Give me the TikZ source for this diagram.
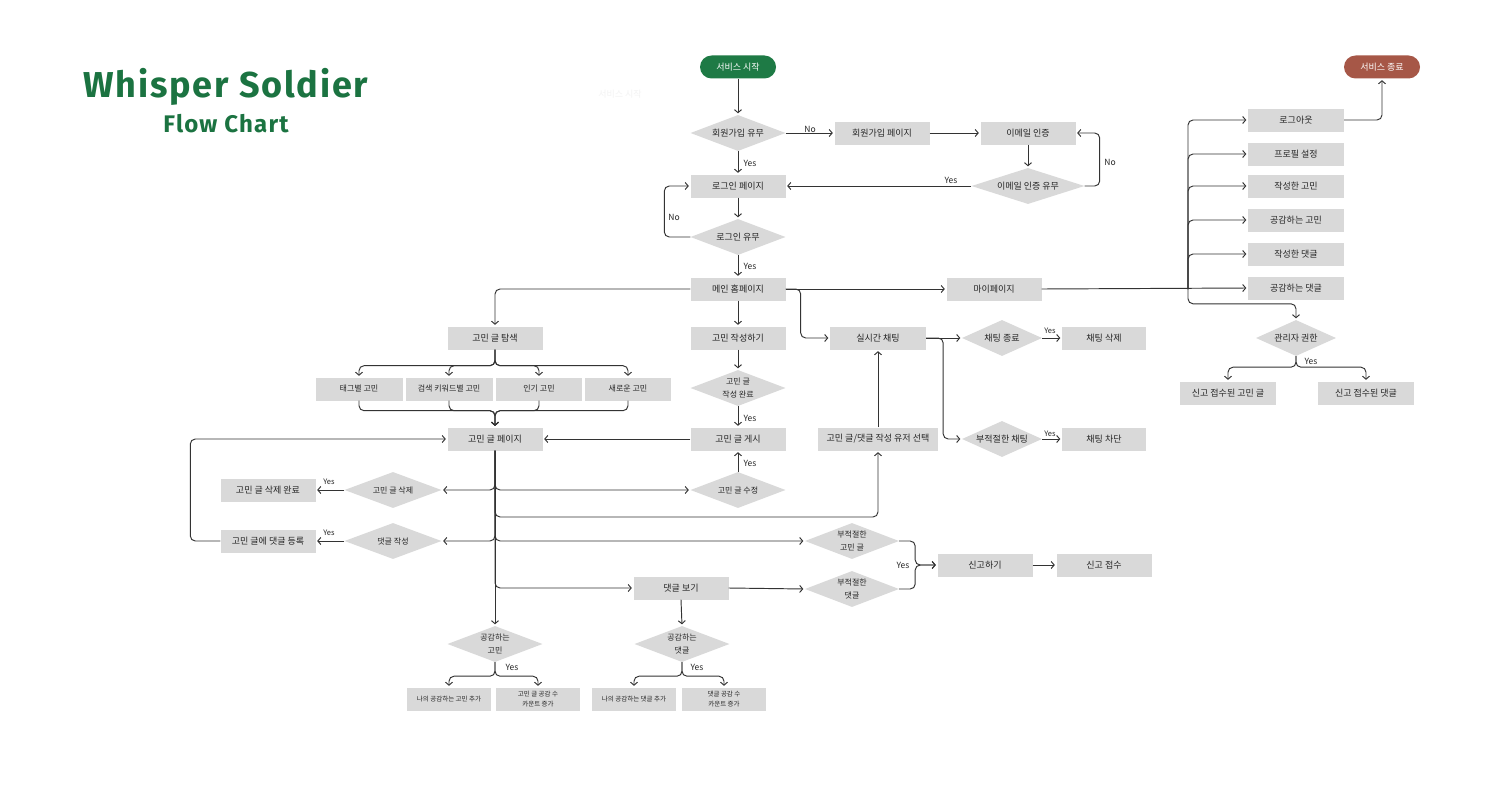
\documentclass[tikz,border=0pt]{standalone}
\usepackage{fontspec}
\setmainfont{Fira Sans}
\newfontfamily\ttlfont[LetterSpace=5]{Fira Sans}
\newfontfamily\kr{Noto Sans CJK KR}
\usetikzlibrary{shapes.geometric,arrows.meta,calc}
\definecolor{boxg}{HTML}{D9D9D9}
\definecolor{txt}{HTML}{262626}
\definecolor{lc}{HTML}{333333}
\definecolor{ttlgreen}{HTML}{1B7341}
\definecolor{startg}{HTML}{1E7A45}
\definecolor{endr}{HTML}{A65747}
\definecolor{ghostc}{HTML}{F3F3F3}
\begin{document}
\begin{tikzpicture}[x=1pt,y=-1pt,
  box/.style={rectangle,fill=boxg,minimum width=95,minimum height=23,inner sep=0pt,text=txt,font=\kr\fontsize{9}{10}\selectfont},
  mbox/.style={box,font=\kr\fontsize{8}{9}\selectfont},
  tbox/.style={box,minimum width=84,font=\kr\fontsize{6.5}{10}\selectfont,align=center},
  dia/.style={diamond,aspect=2.6,fill=boxg,minimum width=95,minimum height=36,inner sep=0pt,text=txt,font=\kr\fontsize{9}{10}\selectfont,align=center},
  sdia/.style={dia,font=\kr\fontsize{8}{13}\selectfont},
  term/.style={rectangle,rounded corners=11.5pt,minimum width=76,minimum height=23,inner sep=0pt,text=white,font=\kr\fontsize{9}{10}\selectfont},
  arr/.style={draw=lc,line width=0.95pt,rounded corners=5pt,shorten >=1.5pt,-{Straight Barb[length=3pt,width=7pt]}},
  lbl/.style={font=\kr\fontsize{8.5}{9}\selectfont,text=txt,inner sep=0pt},
  slbl/.style={lbl,font=\kr\fontsize{7.5}{8}\selectfont},
]
\fill[white] (0,0) rectangle (1500,800);
\path[use as bounding box] (0,0) rectangle (1500,800);

% titles
\node[font=\ttlfont\bfseries\fontsize{36}{40}\selectfont,text=ttlgreen] (title) at (226,87) {Whisper Soldier};
\node[font=\ttlfont\bfseries\fontsize{24}{28}\selectfont,text=ttlgreen] (sub) at (226,124) {Flow Chart};
\node[text=ghostc,font=\kr\fontsize{9}{10}\selectfont] (ghost) at (620,94) {서비스 시작};

% main column
\node[term,fill=startg] (start) at (738,67) {서비스 시작};
\node[dia] (join) at (738,133) {회원가입 유무};
\node[box] (login) at (738,186) {로그인 페이지};
\node[dia] (loginq) at (738,237) {로그인 유무};
\node[box] (home) at (738,289) {메인 홈페이지};
\node[box] (write) at (738,338) {고민 작성하기};
\node[sdia] (writeq) at (738,388) {고민 글\\작성 완료};
\node[box] (post) at (738,439) {고민 글 게시};
\node[sdia] (editq) at (738,490) {고민 글 수정};

% sign-up row
\node[box] (signup) at (882,133) {회원가입 페이지};
\node[box] (email) at (1028,133) {이메일 인증};
\node[dia,minimum width=113] (emailq) at (1028,186) {이메일 인증 유무};
\node[box] (mypage) at (994,289) {마이페이지};

% right column
\node[term,fill=endr] (end) at (1382,67) {서비스 종료};
\node[box,minimum width=96] (logout) at (1296,120) {로그아웃};
\node[box,minimum width=96] (profile) at (1296,154) {프로필 설정};
\node[box,minimum width=96] (mywrote) at (1296,186) {작성한 고민};
\node[box,minimum width=96] (myliked) at (1296,220) {공감하는 고민};
\node[box,minimum width=96] (mycmt) at (1296,254) {작성한 댓글};
\node[box,minimum width=96] (mylikedcmt) at (1296,288) {공감하는 댓글};
\node[dia,minimum width=80] (admin) at (1296,338) {관리자 권한};
\node[box,minimum width=96] (rpost) at (1228,393) {신고 접수된 고민 글};
\node[box,minimum width=96] (rcmt) at (1366,393) {신고 접수된 댓글};

% search
\node[box] (search) at (495,338) {고민 글 탐색};
\node[mbox,minimum width=87] (tag) at (359,389) {태그별 고민};
\node[mbox,minimum width=87] (kw) at (449,389) {검색 키워드별 고민};
\node[mbox,minimum width=86] (pop) at (539,389) {인기 고민};
\node[mbox,minimum width=86] (new) at (628,389) {새로운 고민};
\node[box] (page) at (495,439) {고민 글 페이지};

% left
\node[sdia,minimum width=97] (delq) at (393,490) {고민 글 삭제};
\node[box] (deldone) at (268,490) {고민 글 삭제 완료};
\node[sdia,minimum width=97] (cmtq) at (393,541) {댓글 작성};
\node[box] (cmtdone) at (268,541) {고민 글에 댓글 등록};

% chat
\node[box,minimum width=96] (chat) at (878,338) {실시간 채팅};
\node[box,minimum width=120] (pick) at (878,439) {고민 글/댓글 작성 유저 선택};
\node[dia,minimum width=80] (chatend) at (1002,338) {채팅 종료};
\node[box,minimum width=84] (chatdel) at (1104,338) {채팅 삭제};
\node[dia,minimum width=80] (badchat) at (1002,439) {부적절한 채팅};
\node[box,minimum width=84] (block) at (1104,439) {채팅 차단};

% report
\node[sdia,minimum width=94] (badpost) at (852,541) {부적절한\\고민 글};
\node[sdia,minimum width=94] (badcmt) at (852,589) {부적절한\\댓글};
\node[box] (report) at (985,565) {신고하기};
\node[box] (rcv) at (1104,565) {신고 접수};
\node[box] (viewcmt) at (681,588) {댓글 보기};

% likes
\node[sdia] (likeq) at (495,644) {공감하는\\고민};
\node[sdia] (likecq) at (682,644) {공감하는\\댓글};
\node[tbox] (l1) at (449,699) {나의 공감하는 고민 추가};
\node[tbox] (l2) at (538,699) {고민 글 공감 수\\카운트 증가};
\node[tbox] (l3) at (634,699) {나의 공감하는 댓글 추가};
\node[tbox] (l4) at (724,699) {댓글 공감 수\\카운트 증가};

% helper coordinates
\coordinate (bus) at (1188,289);
\coordinate (pickturn) at (878,517);

% connectors: top
\draw[arr] (start) -- (join);
\draw[arr] (join.east) -- (signup.west);
\draw[arr] (join.south) -- (login.north);
\draw[arr] (signup.east) -- (email.west);
\draw[arr] (email.south) -- (emailq.north);
\draw[arr] (emailq.east) -- ++(15,0) |- (email.east);
\draw[arr] (emailq.west) -- (login.east);
\draw[arr] (login.south) -- (loginq.north);
\draw[arr] (loginq.west) -- ++(-26,0) |- (login.west);
\draw[arr] (loginq.south) -- (home.north);
\draw[arr] (home.east) -- (mypage.west);
\draw[arr] (home.east) -- ++(15,0) |- (chat.west);
\draw[arr] (home.west) -| (search.north);
\draw[arr] (home.south) -- (write.north);

% my page bus
\draw[arr] (mypage.east) -- (mylikedcmt.west);
\draw[arr] (bus) |- (logout.west);
\draw[arr] (bus) |- (profile.west);
\draw[arr] (bus) |- (mywrote.west);
\draw[arr] (bus) |- (myliked.west);
\draw[arr] (bus) |- (mycmt.west);
\draw[arr] (bus) |- ($(admin.north)+(0,-16)$) -- (admin.north);
\draw[arr] (logout.east) -| (end.south);
\draw[arr] (admin.south) -- ++(0,11) -| (rpost.north);
\draw[arr] (admin.south) -- ++(0,11) -| (rcmt.north);

% search
\draw[arr] (search.south) -- ++(0,16) -| (tag.north);
\draw[arr] (search.south) -- ++(0,16) -| (kw.north);
\draw[arr] (search.south) -- ++(0,16) -| (pop.north);
\draw[arr] (search.south) -- ++(0,16) -| (new.north);
\draw[arr] (tag.south) -- ++(0,10) -| (page.north);
\draw[arr] (kw.south) -- ++(0,10) -| (page.north);
\draw[arr] (pop.south) -- ++(0,10) -| (page.north);
\draw[arr] (new.south) -- ++(0,10) -| (page.north);

% writing
\draw[arr] (write.south) -- (writeq.north);
\draw[arr] (writeq.south) -- (post.north);
\draw[arr] (editq.north) -- (post.south);
\draw[arr] (post.west) -- (page.east);

% page bus
\draw[arr] (page.south) |- (delq.east);
\draw[arr] (page.south) |- (editq.west);
\draw[arr] (page.south) |- (pickturn) -- (pick.south);
\draw[arr] (page.south) |- (cmtq.east);
\draw[arr] (page.south) |- (badpost.west);
\draw[arr] (page.south) |- (viewcmt.west);
\draw[arr] (page.south) -- (likeq.north);
\draw[arr] (delq.west) -- (deldone.east);
\draw[arr] (cmtq.west) -- (cmtdone.east);
\draw[arr] (cmtdone.west) -- ++(-30,0) |- (page.west);

% chat
\draw[arr] (pick.north) -- (chat.south);
\draw[arr] (chat.east) -- (chatend.west);
\draw[arr] (chat.east) -- ++(17,0) |- (badchat.west);
\draw[arr] (chatend.east) -- (chatdel.west);
\draw[arr] (badchat.east) -- (block.west);

% report
\draw[arr] (badpost.east) -- ++(16,0) |- (report.west);
\draw[arr] (badcmt.east) -- ++(16,0) |- (report.west);
\draw[arr] (report.east) -- (rcv.west);
\draw[arr] (viewcmt.east) -- (badcmt.west);
\draw[arr] (viewcmt.south) -- (likecq.north);

% likes
\draw[arr] (likeq.south) -- ++(0,14) -| (l1.north);
\draw[arr] (likeq.south) -- ++(0,14) -| (l2.north);
\draw[arr] (likecq.south) -- ++(0,14) -| (l3.north);
\draw[arr] (likecq.south) -- ++(0,14) -| (l4.north);

% labels
\node[lbl] (t1) at (810,129) {No};
\node[lbl] (t2) at (750,163) {Yes};
\node[lbl] (t3) at (951,180) {Yes};
\node[lbl] (t4) at (1110,162) {No};
\node[lbl] (t5) at (674,217) {No};
\node[lbl] (t6) at (750,266) {Yes};
\node[lbl] (t7) at (750,418) {Yes};
\node[lbl] (t8) at (750,463) {Yes};
\node[slbl] (t9) at (1050,331) {Yes};
\node[slbl] (t10) at (1050,434) {Yes};
\node[lbl] (t11) at (1311,361) {Yes};
\node[slbl] (t12) at (329,482) {Yes};
\node[slbl] (t13) at (329,533) {Yes};
\node[lbl] (t14) at (903,565) {Yes};
\node[lbl] (t15) at (512,667) {Yes};
\node[lbl] (t16) at (697,667) {Yes};
\end{tikzpicture}
\end{document}
